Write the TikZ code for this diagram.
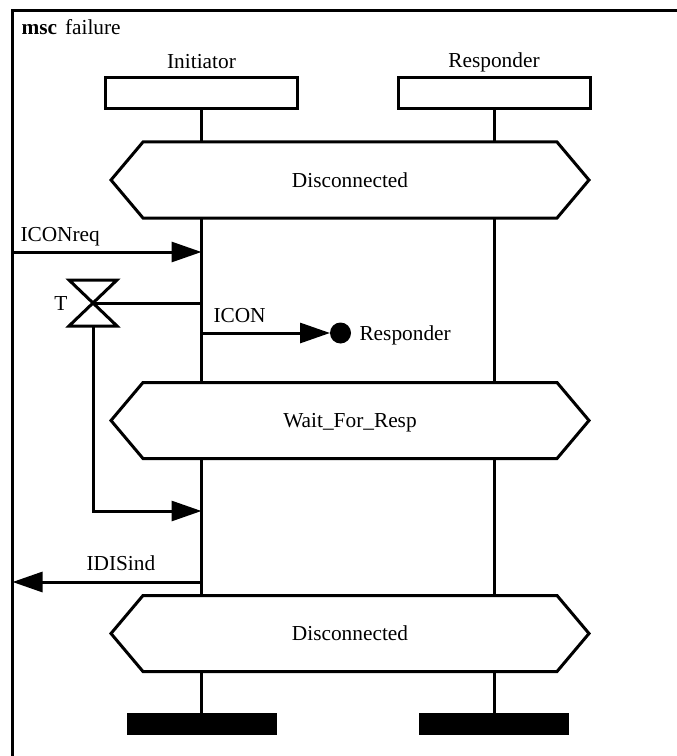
\documentclass[tikz,border=0pt]{standalone}
\usepackage{fontspec}
\setmainfont{Liberation Serif}
\usetikzlibrary{arrows.meta, positioning, calc}

\begin{document}
\begin{tikzpicture}[
    x=0.75pt, y=-0.75pt,
    line width=2.25pt,
    font=\fontsize{16}{19}\selectfont,
    head/.style={draw, minimum width=144pt, minimum height=23.25pt, inner sep=0pt},
    stopbar/.style={fill=black, minimum width=112.5pt, minimum height=16.5pt, inner sep=0pt, outer sep=0pt},
    cond/.style={minimum width=310.5pt, minimum height=57pt, outer sep=0pt,
                 text height=10.6pt, text depth=0pt},
    msg/.style={-{Triangle[length=22.5pt, width=15pt]}},
    lbl/.style={anchor=base west, inner sep=0pt}
  ]

  \useasboundingbox (0,0) rectangle (677,756);
  \clip (0,0) rectangle (677,756);

  % frame
  \draw (12.5,10.5) rectangle (720,800);
  \node[lbl] (title) at (20,35) {\textbf{msc}\hspace{6pt}failure};

  % instances
  \node[head] (init) at (201.5,93) {};
  \node[head] (resp) at (494,93) {};
  \node[anchor=base, inner sep=0pt] (initname) at (201.5,68.5) {Initiator};
  \node[anchor=base, inner sep=0pt] (respname) at (494,68) {Responder};

  % conditions
  \node[cond] (disc1) at (350,180) {Disconnected};
  \node[cond] (wait) at (350,420.5) {Wait\_For\_Resp};
  \node[cond] (disc2) at (350,633.5) {Disconnected};
  \foreach \c in {disc1, wait, disc2}
    \draw (\c.north west) -- (\c.north east) -- ([xshift=24pt]\c.east)
      -- (\c.south east) -- (\c.south west) -- ([xshift=-24pt]\c.west) -- cycle;

  % instance ends
  \node[stopbar] (init-stop) at (201.5,724) {};
  \node[stopbar] (resp-stop) at (494,724) {};

  % lifelines
  \foreach \i in {init, resp} {
    \draw (\i.south) -- (\i |- disc1.north);
    \draw (\i |- disc1.south) -- (\i |- wait.north);
    \draw (\i |- wait.south) -- (\i |- disc2.north);
    \draw (\i |- disc2.south) -- (\i-stop.north);
  }

  % ICONreq from environment
  \coordinate (envreq) at (12.5,252);
  \draw[msg] (envreq) -- (envreq -| init);
  \node[lbl] (reqlabel) at (19,241) {ICONreq};

  % timer T
  \coordinate (timer) at (93,303);
  \coordinate (timerbot) at (93,326);
  \draw (timer) ++(-24,-23) -- ++(48,0) -- ++(-48,46) -- ++(48,0) -- cycle;
  \draw (timer) -- (timer -| init);
  \node (tname) at (61,304) {T};

  % ICON to Responder
  \node[circle, fill=black, minimum size=15.75pt, inner sep=0pt, outer sep=0pt] (dot) at (340.5,333) {};
  \draw[msg] (dot -| init) -- (dot.west);
  \node[lbl] (iconlabel) at (212,322) {ICON};
  \node[lbl] (dotlabel) at (358,340) {Responder};

  % timeout
  \coordinate (timeout) at (201.5,511);
  \draw[msg] (timerbot) |- (timeout);

  % IDISind to environment
  \coordinate (envdis) at (12.5,582);
  \draw[msg] (envdis -| init) -- (envdis);
  \node[lbl] (dislabel) at (85,570) {IDISind};

\end{tikzpicture}
\end{document}
